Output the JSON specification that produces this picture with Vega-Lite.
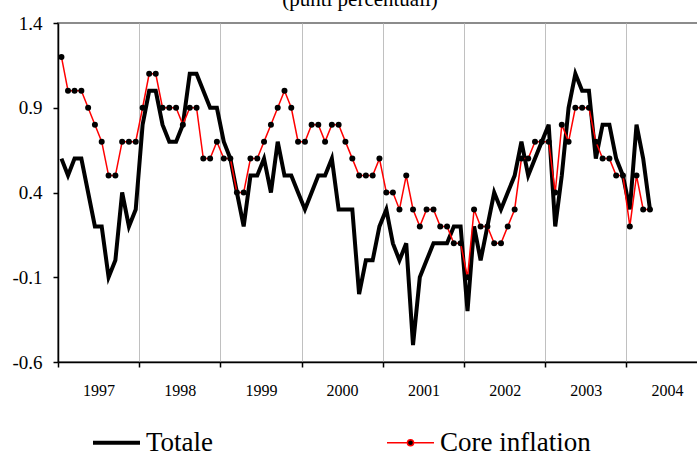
{
  "$schema": "https://vega.github.io/schema/vega-lite/v6.json",
  "width": 640,
  "height": 339,
  "autosize": {"type": "none"},
  "padding": {"left": 58, "top": 23, "right": 0, "bottom": 90},
  "background": "white",
  "title": {
    "text": "(punti percentuali)",
    "font": "Liberation Serif",
    "fontSize": 21,
    "fontWeight": "normal",
    "color": "black",
    "anchor": "middle",
    "dx": -18,
    "dy": 13,
    "offset": 0,
    "baseline": "alphabetic"
  },
  "config": {
    "view": {"stroke": "#8c8c8c", "strokeWidth": 2},
    "font": "Liberation Serif"
  },
  "data": {
    "values": [
      {"date": "1997-01", "Totale": 0.6, "Core inflation": 1.2},
      {"date": "1997-02", "Totale": 0.5, "Core inflation": 1.0},
      {"date": "1997-03", "Totale": 0.6, "Core inflation": 1.0},
      {"date": "1997-04", "Totale": 0.6, "Core inflation": 1.0},
      {"date": "1997-05", "Totale": 0.4, "Core inflation": 0.9},
      {"date": "1997-06", "Totale": 0.2, "Core inflation": 0.8},
      {"date": "1997-07", "Totale": 0.2, "Core inflation": 0.7},
      {"date": "1997-08", "Totale": -0.1, "Core inflation": 0.5},
      {"date": "1997-09", "Totale": 0.0, "Core inflation": 0.5},
      {"date": "1997-10", "Totale": 0.4, "Core inflation": 0.7},
      {"date": "1997-11", "Totale": 0.2, "Core inflation": 0.7},
      {"date": "1997-12", "Totale": 0.3, "Core inflation": 0.7},
      {"date": "1998-01", "Totale": 0.8, "Core inflation": 0.9},
      {"date": "1998-02", "Totale": 1.0, "Core inflation": 1.1},
      {"date": "1998-03", "Totale": 1.0, "Core inflation": 1.1},
      {"date": "1998-04", "Totale": 0.8, "Core inflation": 0.9},
      {"date": "1998-05", "Totale": 0.7, "Core inflation": 0.9},
      {"date": "1998-06", "Totale": 0.7, "Core inflation": 0.9},
      {"date": "1998-07", "Totale": 0.8, "Core inflation": 0.8},
      {"date": "1998-08", "Totale": 1.1, "Core inflation": 0.9},
      {"date": "1998-09", "Totale": 1.1, "Core inflation": 0.9},
      {"date": "1998-10", "Totale": 1.0, "Core inflation": 0.6},
      {"date": "1998-11", "Totale": 0.9, "Core inflation": 0.6},
      {"date": "1998-12", "Totale": 0.9, "Core inflation": 0.7},
      {"date": "1999-01", "Totale": 0.7, "Core inflation": 0.6},
      {"date": "1999-02", "Totale": 0.6, "Core inflation": 0.6},
      {"date": "1999-03", "Totale": 0.4, "Core inflation": 0.4},
      {"date": "1999-04", "Totale": 0.2, "Core inflation": 0.4},
      {"date": "1999-05", "Totale": 0.5, "Core inflation": 0.6},
      {"date": "1999-06", "Totale": 0.5, "Core inflation": 0.6},
      {"date": "1999-07", "Totale": 0.6, "Core inflation": 0.7},
      {"date": "1999-08", "Totale": 0.4, "Core inflation": 0.8},
      {"date": "1999-09", "Totale": 0.7, "Core inflation": 0.9},
      {"date": "1999-10", "Totale": 0.5, "Core inflation": 1.0},
      {"date": "1999-11", "Totale": 0.5, "Core inflation": 0.9},
      {"date": "1999-12", "Totale": 0.4, "Core inflation": 0.7},
      {"date": "2000-01", "Totale": 0.3, "Core inflation": 0.7},
      {"date": "2000-02", "Totale": 0.4, "Core inflation": 0.8},
      {"date": "2000-03", "Totale": 0.5, "Core inflation": 0.8},
      {"date": "2000-04", "Totale": 0.5, "Core inflation": 0.7},
      {"date": "2000-05", "Totale": 0.6, "Core inflation": 0.8},
      {"date": "2000-06", "Totale": 0.3, "Core inflation": 0.8},
      {"date": "2000-07", "Totale": 0.3, "Core inflation": 0.7},
      {"date": "2000-08", "Totale": 0.3, "Core inflation": 0.6},
      {"date": "2000-09", "Totale": -0.2, "Core inflation": 0.5},
      {"date": "2000-10", "Totale": 0.0, "Core inflation": 0.5},
      {"date": "2000-11", "Totale": 0.0, "Core inflation": 0.5},
      {"date": "2000-12", "Totale": 0.2, "Core inflation": 0.6},
      {"date": "2001-01", "Totale": 0.3, "Core inflation": 0.4},
      {"date": "2001-02", "Totale": 0.1, "Core inflation": 0.4},
      {"date": "2001-03", "Totale": 0.0, "Core inflation": 0.3},
      {"date": "2001-04", "Totale": 0.1, "Core inflation": 0.5},
      {"date": "2001-05", "Totale": -0.5, "Core inflation": 0.3},
      {"date": "2001-06", "Totale": -0.1, "Core inflation": 0.2},
      {"date": "2001-07", "Totale": 0.0, "Core inflation": 0.3},
      {"date": "2001-08", "Totale": 0.1, "Core inflation": 0.3},
      {"date": "2001-09", "Totale": 0.1, "Core inflation": 0.2},
      {"date": "2001-10", "Totale": 0.1, "Core inflation": 0.2},
      {"date": "2001-11", "Totale": 0.2, "Core inflation": 0.1},
      {"date": "2001-12", "Totale": 0.2, "Core inflation": 0.1},
      {"date": "2002-01", "Totale": -0.3, "Core inflation": -0.1},
      {"date": "2002-02", "Totale": 0.2, "Core inflation": 0.3},
      {"date": "2002-03", "Totale": 0.0, "Core inflation": 0.2},
      {"date": "2002-04", "Totale": 0.2, "Core inflation": 0.2},
      {"date": "2002-05", "Totale": 0.4, "Core inflation": 0.1},
      {"date": "2002-06", "Totale": 0.3, "Core inflation": 0.1},
      {"date": "2002-07", "Totale": 0.4, "Core inflation": 0.2},
      {"date": "2002-08", "Totale": 0.5, "Core inflation": 0.3},
      {"date": "2002-09", "Totale": 0.7, "Core inflation": 0.6},
      {"date": "2002-10", "Totale": 0.5, "Core inflation": 0.6},
      {"date": "2002-11", "Totale": 0.6, "Core inflation": 0.7},
      {"date": "2002-12", "Totale": 0.7, "Core inflation": 0.7},
      {"date": "2003-01", "Totale": 0.8, "Core inflation": 0.7},
      {"date": "2003-02", "Totale": 0.2, "Core inflation": 0.4},
      {"date": "2003-03", "Totale": 0.5, "Core inflation": 0.8},
      {"date": "2003-04", "Totale": 0.9, "Core inflation": 0.7},
      {"date": "2003-05", "Totale": 1.1, "Core inflation": 0.9},
      {"date": "2003-06", "Totale": 1.0, "Core inflation": 0.9},
      {"date": "2003-07", "Totale": 1.0, "Core inflation": 0.9},
      {"date": "2003-08", "Totale": 0.6, "Core inflation": 0.7},
      {"date": "2003-09", "Totale": 0.8, "Core inflation": 0.6},
      {"date": "2003-10", "Totale": 0.8, "Core inflation": 0.6},
      {"date": "2003-11", "Totale": 0.6, "Core inflation": 0.5},
      {"date": "2003-12", "Totale": 0.5, "Core inflation": 0.5},
      {"date": "2004-01", "Totale": 0.3, "Core inflation": 0.2},
      {"date": "2004-02", "Totale": 0.8, "Core inflation": 0.5},
      {"date": "2004-03", "Totale": 0.6, "Core inflation": 0.3},
      {"date": "2004-04", "Totale": 0.3, "Core inflation": 0.3}
    ]
  },
  "transform": [
    {"fold": ["Totale", "Core inflation"], "as": ["series", "value"]}
  ],
  "encoding": {
    "x": {
      "field": "date",
      "timeUnit": "utcyearmonth",
      "type": "temporal",
      "bandPosition": 0.5,
      "scale": {
        "domain": [
          {"year": 1997, "month": 1, "date": 1, "utc": true},
          {"year": 2004, "month": 11, "date": 18, "utc": true}
        ]
      },
      "axis": {
        "title": null,
        "values": [
          {"year": 1997, "month": 1, "date": 1, "utc": true},
          {"year": 1998, "month": 1, "date": 1, "utc": true},
          {"year": 1999, "month": 1, "date": 1, "utc": true},
          {"year": 2000, "month": 1, "date": 1, "utc": true},
          {"year": 2001, "month": 1, "date": 1, "utc": true},
          {"year": 2002, "month": 1, "date": 1, "utc": true},
          {"year": 2003, "month": 1, "date": 1, "utc": true},
          {"year": 2004, "month": 1, "date": 1, "utc": true}
        ],
        "format": "%Y",
        "grid": true,
        "gridColor": "#c0c0c0",
        "gridWidth": 1,
        "domainColor": "black",
        "domainWidth": 1.5,
        "tickColor": "black",
        "tickWidth": 1.5,
        "tickSize": 5,
        "labelOffset": 40.6,
        "labelFlush": false,
        "labelOverlap": false,
        "labelBound": false,
        "labelPadding": 15,
        "labelFont": "Liberation Serif",
        "labelFontSize": 16,
        "labelColor": "black"
      }
    },
    "y": {
      "field": "value",
      "type": "quantitative",
      "scale": {"domain": [-0.6, 1.4], "nice": false, "zero": false},
      "axis": {
        "title": null,
        "values": [-0.6, -0.1, 0.4, 0.9, 1.4],
        "labelExpr": "datum.value < 0 ? '-' + format(-datum.value, '.1f') : format(datum.value, '.1f')",
        "grid": false,
        "domainColor": "black",
        "domainWidth": 1.5,
        "tickColor": "black",
        "tickWidth": 1.5,
        "tickSize": 5,
        "labelPadding": 11,
        "labelFont": "Liberation Serif",
        "labelFontSize": 19,
        "labelColor": "black"
      }
    }
  },
  "layer": [
    {
      "transform": [{"filter": "datum.series === 'Totale'"}],
      "mark": {"type": "line", "strokeWidth": 4, "strokeJoin": "miter"},
      "encoding": {
        "color": {
          "field": "series",
          "type": "nominal",
          "scale": {"domain": ["Totale", "Core inflation"], "range": ["black", "red"]},
          "legend": {
            "orient": "none",
            "legendX": 45,
            "legendY": 406,
            "direction": "horizontal",
            "title": null,
            "padding": 0,
            "symbolType": "stroke",
            "symbolSize": 2209,
            "labelFont": "Liberation Serif",
            "labelFontSize": 27,
            "labelColor": "black",
            "labelOffset": 16,
            "columnPadding": 170,
            "encode": {
              "symbols": {
                "update": {
                  "shape": {"signal": "datum.value === 'Totale' ? 'M-1,0L1,0' : 'M-1,0L-0.12,0M0.12,0L1,0M0.13,0A0.13,0.13,0,1,1,-0.13,0A0.13,0.13,0,1,1,0.13,0Z'"},
                  "strokeWidth": {"signal": "datum.value === 'Totale' ? 4 : 1.5"},
                  "fill": {"value": "black"},
                  "opacity": {"value": 1}
                }
              }
            }
          }
        }
      }
    },
    {
      "transform": [{"filter": "datum.series === 'Core inflation'"}],
      "mark": {"type": "line", "strokeWidth": 1.5},
      "encoding": {
        "color": {"field": "series", "type": "nominal"}
      }
    },
    {
      "transform": [{"filter": "datum.series === 'Core inflation'"}],
      "mark": {"type": "point", "filled": true, "shape": "circle", "size": 36, "color": "black", "opacity": 1}
    }
  ]
}
